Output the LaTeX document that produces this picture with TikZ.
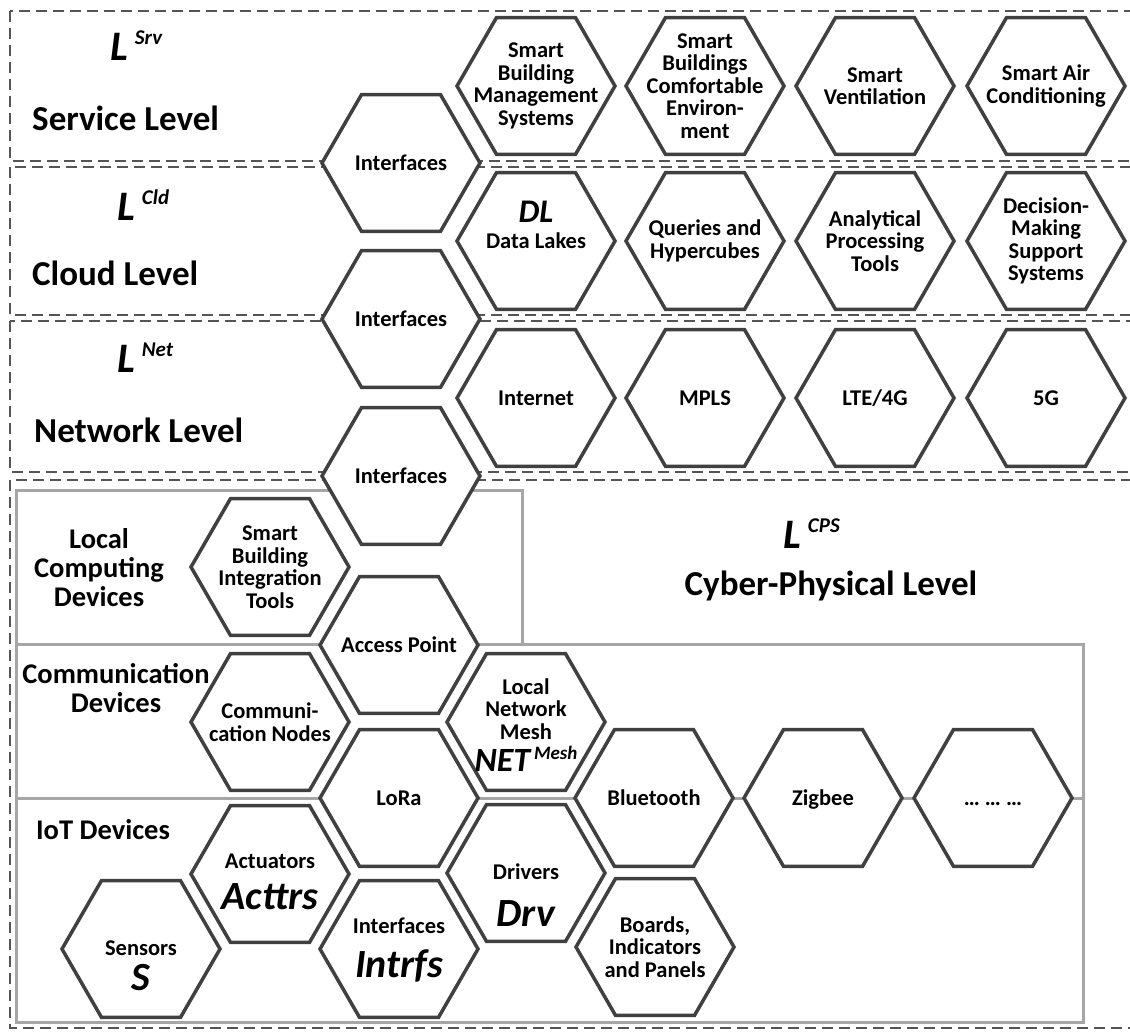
\documentclass[tikz,border=0pt]{standalone}
\usepackage{fontspec}
\setmainfont{Carlito}

\definecolor{hexdark}{RGB}{64,64,64}
\definecolor{boxgray}{RGB}{166,166,166}
\definecolor{dashgray}{RGB}{85,85,85}

% hexagon cell: [text options] name, centre, text
\newcommand{\hexcell}[4][]{%
  \draw[hexline] #3 ++(-79,0) -- ++(39.5,68.4) -- ++(79,0) -- ++(39.5,-68.4)
     -- ++(-39.5,-68.4) -- ++(-79,0) -- cycle;
  \node[hextext,#1] (#2) at #3 {#4};}
\newcommand{\bigit}[2][40]{{\bfseries\itshape\fontsize{#1}{#1}\selectfont #2}}
\newcommand{\levsym}[1]{{\bfseries\itshape\fontsize{42}{42}\selectfont L\,\raisebox{16pt}{\fontsize{21}{21}\selectfont #1}}}

\begin{document}
\begin{tikzpicture}[x=1pt,y=-1pt,
   levelbox/.style={draw=dashgray,line width=2pt,dash pattern=on 11pt off 6pt},
   groupbox/.style={draw=boxgray,line width=3pt},
   hexline/.style={draw=hexdark,fill=white,line width=3.5pt},
   hextext/.style={align=center,inner sep=0pt,font=\bfseries\fontsize{22.5}{22.5}\selectfont},
   oneline/.style={text height=15pt,text depth=0pt},
   leveltitle/.style={inner sep=0pt,font=\bfseries\fontsize{35}{38}\selectfont},
   grouptitle/.style={align=center,inner sep=0pt,font=\bfseries\fontsize{28.5}{29}\selectfont}]
\useasboundingbox (0,0) rectangle (1130,1033);
\clip (0,0) rectangle (1130,1033);

% levels
\draw[levelbox] (10,11) rectangle (1145,161);
\draw[levelbox] (10,167) rectangle (1145,315);
\draw[levelbox] (10,321) rectangle (1145,472);
\draw[levelbox] (10,480) rectangle (1145,1028);

% device groups
\draw[groupbox] (16,490) rectangle (522,644);
\draw[groupbox] (16,644) rectangle (1083,798);
\draw[groupbox] (16,798) rectangle (1083,1022);

% interfaces between levels
\hexcell[oneline]{ifsrv}{(401,163)}{Interfaces}
\hexcell[oneline]{ifcld}{(401,319)}{Interfaces}
\hexcell[oneline]{ifnet}{(401,476)}{Interfaces}

% service level
\hexcell{sbms}{(536,86)}{Smart\\Building\\Management\\Systems}
\hexcell{sbce}{(705,86)}{Smart\\Buildings\\Comfortable\\Environ-\\ment}
\hexcell{svent}{(875,86)}{Smart\\Ventilation}
\hexcell{sac}{(1046,86)}{Smart Air\\Conditioning}

% cloud level
\hexcell[yshift=16pt]{dl}{(536,241)}{\bigit[33]{DL}\\[4pt]Data Lakes}
\hexcell{qh}{(705,241)}{Queries and\\Hypercubes}
\hexcell{apt}{(875,241)}{Analytical\\Processing\\Tools}
\hexcell{dmss}{(1046,241)}{Decision-\\Making\\Support\\Systems}

% network level
\hexcell[oneline]{inet}{(536,398)}{Internet}
\hexcell[oneline]{mpls}{(705,398)}{MPLS}
\hexcell[oneline]{lte}{(875,398)}{LTE/4G}
\hexcell[oneline]{fiveg}{(1046,398)}{5G}

% cyber-physical level
\hexcell{sbit}{(270,567)}{Smart\\Building\\Integration\\Tools}
\hexcell[oneline]{ap}{(399,645)}{Access Point}
\hexcell{cn}{(270,722)}{Communi-\\cation Nodes}
\hexcell[oneline]{lora}{(399,798)}{LoRa}
\hexcell[yshift=-3pt]{mesh}{(526,722)}{Local\\Network\\Mesh\\[6pt]\bigit[34]{NET}\,\raisebox{12pt}{\bigit[19]{Mesh}}}
\hexcell[yshift=-8pt]{act}{(270,874)}{Actuators\\[14pt]\bigit{Acttrs}}
\hexcell[yshift=-17pt]{sens}{(141,949)}{Sensors\\[8pt]\bigit{S}}
\hexcell[yshift=-1pt]{intr}{(399,949)}{Interfaces\\[16pt]\bigit{Intrfs}}
\hexcell[yshift=-22pt]{drv}{(526,873)}{Drivers\\[20pt]\bigit{Drv}}
\hexcell[oneline]{bt}{(654,798)}{Bluetooth}
\hexcell[oneline]{zig}{(823,798)}{Zigbee}
\hexcell[oneline]{more}{(993,798)}{…\ …\ …}
\hexcell{bip}{(655,947)}{Boards,\\Indicators\\and Panels}

% level names
\node[anchor=base west,inner sep=0pt] (symsrv) at (110,60) {\levsym{Srv}};
\node[leveltitle,anchor=base west] (titsrv) at (32,130) {Service Level};
\node[anchor=base west,inner sep=0pt] (symcld) at (117,220) {\levsym{Cld}};
\node[leveltitle,anchor=base west] (titcld) at (32,285) {Cloud Level};
\node[anchor=base west,inner sep=0pt] (symnet) at (117,372) {\levsym{Net}};
\node[leveltitle,anchor=base west] (titnet) at (34,442) {Network Level};
\node[anchor=base west,inner sep=0pt] (symcps) at (783,548) {\levsym{CPS}};
\node[leveltitle,anchor=base] (titcps) at (831,595) {Cyber-Physical Level};

% group names
\node[grouptitle] (grplcd) at (99,568) {Local\\Computing\\Devices};
\node[grouptitle] (grpcd) at (116,688) {Communication\\Devices};
\node[grouptitle] (grpiot) at (103,830) {IoT Devices};
\end{tikzpicture}
\end{document}
